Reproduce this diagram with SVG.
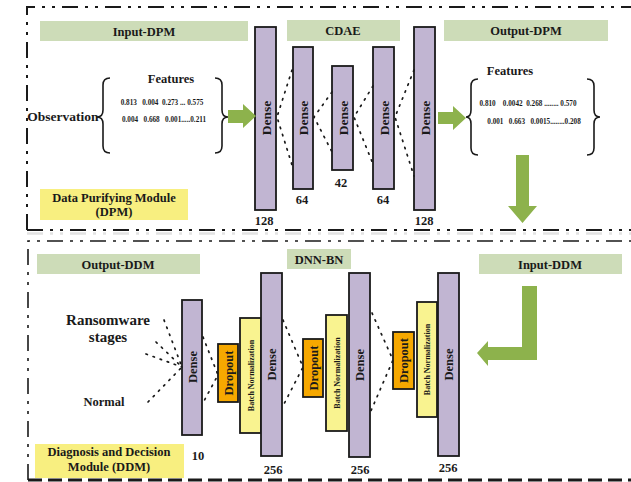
<svg xmlns="http://www.w3.org/2000/svg" width="631" height="482" viewBox="0 0 631 482">
<defs>
<style>
.frame{fill:none;stroke:#1a1a1a;stroke-width:2;stroke-dasharray:16 7 3 7 3 7}
.bar{fill:#cddcb8}
.ybox{fill:#f8ef80}
.dense{fill:#c1b5d2;stroke:#1a1a1a;stroke-width:1.8}
.drop{fill:#f6a800;stroke:#1a1a1a;stroke-width:1.8}
.bn{fill:#f9f390;stroke:#1a1a1a;stroke-width:1.8}
.arrow{fill:#8db24c}
.brace{fill:none;stroke:#1a1a1a;stroke-width:1.6}
.dot{fill:none;stroke:#1a1a1a;stroke-width:1.7;stroke-dasharray:1.5 6;stroke-linecap:round}
text{font-family:"Liberation Serif","Times New Roman",serif;font-weight:bold;fill:#1a1a1a;text-anchor:middle}
.t12{font-size:12.5px}
.t13{font-size:13.5px}
.num{font-size:7.2px}
.bnt{font-size:8px}
</style>
</defs>
<rect width="631" height="482" fill="#ffffff"/>

<!-- frames -->
<g id="frames">
<path class="frame" d="M27,230 L27,7 L631,7"/>
<path class="frame" d="M27,230 L631,230"/>
<path d="M27,233.5 L631,233.5" fill="none" stroke="#e2e2e2" stroke-width="2.5" stroke-dasharray="16 7 3 7 3 7"/>
<path class="frame" style="stroke-width:1.6" d="M28,480 L28,241 L631,241"/>
<path class="frame" style="stroke-width:3;stroke-dasharray:14 6" d="M28,480 L631,480"/>
</g>

<!-- top header bars -->
<g id="input-dpm"><rect class="bar" x="40" y="21" width="208" height="20"/><text class="t12" x="144" y="35.5">Input-DPM</text></g>
<g id="cdae"><rect class="bar" x="287" y="20" width="113" height="21"/><text class="t12" x="343" y="35">CDAE</text></g>
<g id="output-dpm"><rect class="bar" x="444" y="20" width="164" height="21"/><text class="t12" x="526" y="35">Output-DPM</text></g>

<!-- input features -->
<g id="observation">
<text class="t13" x="63" y="121">Observation</text>
<path class="brace" d="M110,78 Q103,78 103,85 L103,110 Q103,117 97,117 Q103,117 103,124 L103,146 Q103,153 110,153"/>
<path class="brace" d="M215,78 Q222,78 222,85 L222,110 Q222,117 228,117 Q222,117 222,124 L222,146 Q222,153 215,153"/>
<text class="t12" x="171" y="83">Features</text>
<text class="num" x="162" y="104.5" xml:space="preserve">0.813   0.004  0.273 ... 0.575</text>
<text class="num" x="164" y="121.5" xml:space="preserve">0.004   0.668   0.001.....0.211</text>
</g>

<!-- CDAE dense layers -->
<g id="dense1"><rect class="dense" x="255" y="27" width="21" height="183"/><text class="t13" transform="translate(270.5,118) rotate(-90)">Dense</text><text class="t12" x="264" y="225">128</text></g>
<g id="dense2"><rect class="dense" x="293" y="47" width="20" height="142"/><text class="t13" transform="translate(308,118) rotate(-90)">Dense</text><text class="t12" x="302" y="204">64</text></g>
<g id="dense3"><rect class="dense" x="332" y="66" width="21" height="104"/><text class="t13" transform="translate(347.5,118) rotate(-90)">Dense</text><text class="t12" x="341" y="187">42</text></g>
<g id="dense4"><rect class="dense" x="373" y="47" width="21" height="142"/><text class="t13" transform="translate(388.5,118) rotate(-90)">Dense</text><text class="t12" x="383" y="204">64</text></g>
<g id="dense5"><rect class="dense" x="414" y="27" width="21" height="183"/><text class="t13" transform="translate(429.5,118) rotate(-90)">Dense</text><text class="t12" x="424" y="225">128</text></g>

<!-- output features -->
<g id="output-features">
<path class="brace" d="M478,79 Q471,79 471,86 L471,110 Q471,117 466,117 Q471,117 471,124 L471,148 Q471,155 478,155"/>
<path class="brace" d="M587,79 Q594,79 594,86 L594,110 Q594,117 600,117 Q594,117 594,124 L594,148 Q594,155 587,155"/>
<text class="t12" x="510" y="75">Features</text>
<text class="num" x="528" y="106" xml:space="preserve">0.810    0.0042  0.268 ........ 0.570</text>
<text class="num" x="534" y="123.5" xml:space="preserve">0.001   0.663   0.0015........0.208</text>
</g>

<!-- DPM label -->
<g id="dpm-label"><rect class="ybox" x="40" y="189" width="148" height="31"/><text class="t12" x="114" y="202">Data Purifying Module</text><text class="t12" x="114" y="216">(DPM)</text></g>

<!-- lower header bars -->
<g id="output-ddm"><rect class="bar" x="37" y="254" width="163" height="20"/><text class="t12" x="118" y="268.5">Output-DDM</text></g>
<g id="dnn-bn"><rect class="bar" x="287" y="249" width="64" height="20"/><text class="t12" x="319" y="263.5">DNN-BN</text></g>
<g id="input-ddm"><rect class="bar" x="479" y="254" width="143" height="20"/><text class="t12" x="550" y="268.5">Input-DDM</text></g>

<!-- outputs text -->
<g id="outputs">
<text x="108" y="325" style="font-size:15px">Ransomware</text>
<text x="108" y="342" style="font-size:15px">stages</text>
<text class="t12" x="104" y="406">Normal</text>
</g>

<!-- DNN-BN layers -->
<g id="dense10"><rect class="dense" x="182" y="300" width="20" height="135"/><text class="t12" transform="translate(196.5,367) rotate(-90)">Dense</text><text class="t12" x="198" y="460">10</text></g>
<g id="dropout1"><rect class="drop" x="218" y="344" width="20" height="58"/><text class="t12" transform="translate(232.5,373) rotate(-90)">Dropout</text></g>
<g id="bn1"><rect class="bn" x="240" y="318" width="21" height="115"/><text class="bnt" transform="translate(253.5,375.5) rotate(-90)">Batch Normalization</text></g>
<g id="dense256a"><rect class="dense" x="261" y="273" width="21" height="183"/><text class="t12" transform="translate(276,364.5) rotate(-90)">Dense</text><text class="t12" x="273" y="474">256</text></g>
<g id="dropout2"><rect class="drop" x="303" y="339" width="20" height="58"/><text class="t12" transform="translate(317.5,368) rotate(-90)">Dropout</text></g>
<g id="bn2"><rect class="bn" x="326" y="315" width="21" height="116"/><text class="bnt" transform="translate(339.5,373) rotate(-90)">Batch Normalization</text></g>
<g id="dense256b"><rect class="dense" x="349" y="273" width="21" height="184"/><text class="t12" transform="translate(364,365) rotate(-90)">Dense</text><text class="t12" x="360" y="474">256</text></g>
<g id="dropout3"><rect class="drop" x="393" y="332" width="21" height="57"/><text class="t12" transform="translate(408,360.5) rotate(-90)">Dropout</text></g>
<g id="bn3"><rect class="bn" x="417" y="302" width="20" height="115"/><text class="bnt" transform="translate(430,359.5) rotate(-90)">Batch Normalization</text></g>
<g id="dense256c"><rect class="dense" x="438" y="273" width="21" height="183"/><text class="t12" transform="translate(453,364.5) rotate(-90)">Dense</text><text class="t12" x="448" y="472">256</text></g>

<!-- DDM label -->
<g id="ddm-label"><rect class="ybox" x="35" y="444" width="149" height="34"/><text class="t12" x="109" y="456">Diagnosis and Decision</text><text class="t12" x="109" y="471">Module (DDM)</text></g>

<!-- connectors -->
<g id="connectors">
<path class="arrow" d="M228,110 L243,110 L243,104 L256,116 L243,128 L243,123 L228,123 Z"/>
<path class="arrow" d="M438,112 L453,112 L453,106 L466,118 L453,130 L453,124 L438,124 Z"/>
<path class="arrow" d="M516,155 L529,155 L529,206 L537,206 L522.5,223 L508,206 L516,206 Z"/>
<path class="arrow" d="M522,286 L537,286 L537,360 L488,360 L488,366 L477,353 L488,341 L488,347 L522,347 Z"/>

<path class="dot" d="M292,70 L277,117 L292,165"/>
<path class="dot" d="M332,92 L314,117 L332,152"/>
<path class="dot" d="M373,86 L354,117 L373,164"/>
<path class="dot" d="M414,70 L395,117 L414,176"/>

<path class="dot" d="M164,320 L182,367"/>
<path class="dot" d="M156,342 L182,367"/>
<path class="dot" d="M146,354 L182,367"/>
<path class="dot" d="M148,402 L182,367"/>
<path class="dot" d="M203,337 L218,375 L204,401"/>
<path class="dot" d="M283,320 L303,367 L284,404"/>
<path class="dot" d="M372,313 L393,360 L370,413"/>
</g>
</svg>
